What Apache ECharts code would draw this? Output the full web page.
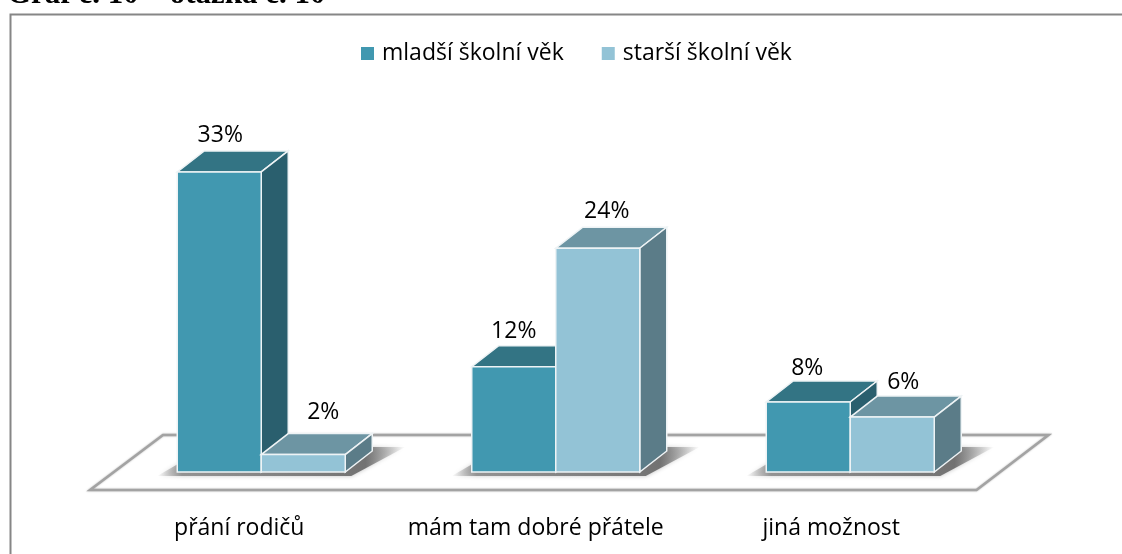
<!DOCTYPE html>
<html>
<head>
<meta charset="utf-8">
<title>Graf č. 10</title>
<style>
  html, body { margin: 0; padding: 0; background: #fff; }
  #main { width: 1122px; height: 554px; }
</style>
<script src="https://cdn.jsdelivr.net/npm/echarts@6/dist/echarts.min.js"></script>
</head>
<body>
<div id="main"></div>
<script>
var titleText = 'Graf č. 10 – otázka č. 10';
var categories = ['přání rodičů', 'mám tam dobré přátele', 'jiná možnost'];
var seriesNames = ['mladší školní věk', 'starší školní věk'];
// the labels in the picture are these rounded
var youngValues = [32.8, 11.5, 7.65];
var olderValues = [1.9, 24.45, 6.0];

var textFont = '"Open Sans", sans-serif';
var barW = 84;
var depthX = 27;
var depthY = 21;

function barRender(side, front, top, right, labelDx, labelDy) {
  return function (params, api) {
    var i = api.value(0);
    var c = api.coord([i, api.value(1)]);
    var b = api.coord([i, 0]);
    var x0 = side < 0 ? c[0] - barW : c[0];
    var x1 = x0 + barW;
    var y = c[1];
    var edge = { stroke: '#eef3f5', lineWidth: 1.5 };
    return {
      type: 'group',
      children: [
        { type: 'polygon', shape: { points: [[x0, y], [x1, y], [x1 + depthX, y - depthY], [x0 + depthX, y - depthY]] },
          style: Object.assign({ fill: top }, edge) },
        { type: 'polygon', shape: { points: [[x1, y], [x1 + depthX, y - depthY], [x1 + depthX, b[1] - depthY], [x1, b[1]]] },
          style: Object.assign({ fill: right }, edge) },
        { type: 'rect', shape: { x: x0, y: y, width: barW, height: b[1] - y },
          style: Object.assign({ fill: front }, edge) },
        { type: 'text', style: {
            x: (x0 + x1) / 2 + labelDx[i], y: y - depthY + labelDy[i],
            text: Math.round(api.value(1)) + '%',
            font: '23px ' + textFont, fill: '#000', align: 'center', verticalAlign: 'middle' } }
      ]
    };
  };
}

function floorRender(params, api) {
  var g = params.coordSys;
  var i = api.value(0);
  var b = api.coord([i, 0]);
  var children = [];
  if (i === 0) {
    var y0 = g.y + g.height;
    children.push({ type: 'polygon',
      shape: { points: [[g.x - 24, y0 + 18], [g.x + g.width - 21, y0 + 18], [g.x + g.width + 51, y0 - 37], [g.x + 49, y0 - 37]] },
      style: { fill: '#fff', stroke: '#a3a3a3', lineWidth: 2.5, shadowBlur: 2, shadowColor: '#bbb' } });
  }
  // soft ground shadow under each pair of bars
  var left = b[0] - barW - 20;
  var right = b[0] + barW + 60;
  children.push({ type: 'polygon',
    shape: { points: [[left, b[1] + 4], [b[0] + barW + 6, b[1] + 4], [right, b[1] - 25], [b[0] - barW + 30, b[1] - 25]] },
    style: {
      shadowBlur: 4, shadowColor: 'rgba(120,120,120,0.5)',
      fill: new echarts.graphic.LinearGradient(left, 0, right, 0, [
        { offset: 0, color: 'rgba(130,130,130,0)' },
        { offset: 0.1, color: 'rgba(130,130,130,0.8)' },
        { offset: 0.84, color: 'rgba(110,110,110,0.95)' },
        { offset: 1, color: 'rgba(130,130,130,0)' }
      ], true)
    } });
  return { type: 'group', children: children };
}

var chart = echarts.init(document.getElementById('main'), null, { renderer: 'canvas' });
chart.setOption({
  animation: false,
  backgroundColor: '#fff',
  title: {
    text: titleText, left: 7, top: -21, padding: 0,
    textStyle: { fontFamily: '"Liberation Serif", serif', fontWeight: 'bold', fontSize: 31, color: '#000' }
  },
  graphic: [{
    type: 'rect', left: 8, top: 12, z: -1,
    shape: { width: 1140, height: 600 },
    style: { fill: 'none', stroke: '#868686', lineWidth: 2 }
  }],
  legend: {
    data: seriesNames,
    left: 361, top: 42, padding: 0,
    icon: 'rect', itemWidth: 13, itemHeight: 13, itemGap: 38,
    textStyle: { fontFamily: textFont, fontSize: 23, color: '#000', padding: [0, 0, 0, 3] }
  },
  grid: { left: 114, top: 106, width: 883.5, height: 366 },
  xAxis: {
    type: 'category',
    data: [
      { value: categories[0], textStyle: { padding: [0, 44, 0, 0] } },
      { value: categories[1], textStyle: { padding: [0, 40, 0, 0] } },
      { value: categories[2], textStyle: { padding: [0, 38, 0, 0] } }
    ],
    axisLine: { show: false }, axisTick: { show: false },
    axisLabel: { margin: 45, interval: 0, fontFamily: textFont, fontSize: 23, color: '#000' }
  },
  yAxis: { type: 'value', min: 0, max: 40, show: false, splitLine: { show: false } },
  series: [
    { type: 'custom', name: 'floor', silent: true, renderItem: floorRender, data: categories.map(function (c, i) { return [i, 0]; }), encode: { x: 0, y: 1 } },
    { type: 'custom', name: seriesNames[0], silent: true, itemStyle: { color: '#4198b0' },
      renderItem: barRender(-1, '#4198b0', '#337484', '#2a5f6e', [1, 0, -1], [-15, -14, -13]),
      data: youngValues.map(function (v, i) { return [i, v]; }), encode: { x: 0, y: 1 } },
    { type: 'custom', name: seriesNames[1], silent: true, itemStyle: { color: '#93c3d6' },
      renderItem: barRender(1, '#93c3d6', '#6d95a3', '#5b7c88', [20, 9, 11], [-21, -16, -14]),
      data: olderValues.map(function (v, i) { return [i, v]; }), encode: { x: 0, y: 1 } }
  ]
});
</script>
</body>
</html>
